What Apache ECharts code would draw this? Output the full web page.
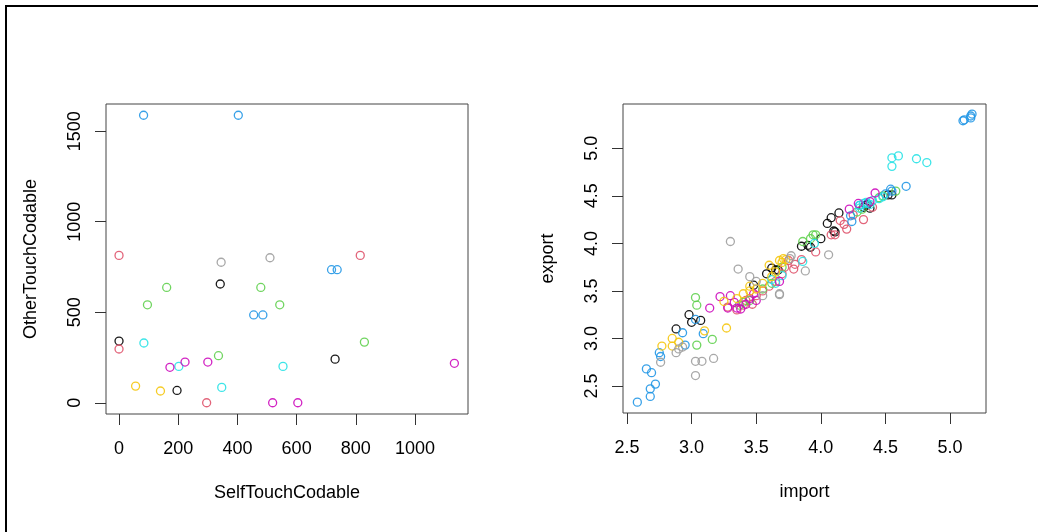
<!DOCTYPE html>
<html>
<head>
<meta charset="utf-8">
<script src="https://cdn.jsdelivr.net/npm/echarts@6.0.0/dist/echarts.min.js"></script>
<style>
  html, body { margin: 0; padding: 0; background: #fff; }
  #main { width: 1038px; height: 532px; }
</style>
</head>
<body>
<div id="main"></div>
<script>
// 分组颜色 (R 默认调色板)
var groupColors = ['#000000', '#DF536B', '#61D04F', '#2297E6', '#28E2E5', '#CD0BBC', '#F5C710', '#9E9E9E']

// 左图: [SelfTouchCodable, OtherTouchCodable, 分组]
var touchPoints = [
  [0, 341, 0], [342, 656, 0], [196, 68, 0], [730, 241, 0],
  [0, 814, 1], [815, 814, 1], [0, 297, 1], [296, 0, 1],
  [161, 637, 2], [479, 637, 2], [96, 541, 2], [543, 541, 2], [336, 260, 2], [829, 335, 2],
  [83, 1588, 3], [403, 1588, 3], [455, 485, 3], [486, 485, 3], [718, 735, 3], [737, 735, 3],
  [84, 330, 4], [202, 201, 4], [554, 201, 4], [347, 85, 4],
  [172, 196, 5], [223, 225, 5], [300, 225, 5], [519, 0, 5], [604, 0, 5], [1133, 218, 5],
  [56, 92, 6], [140, 65, 6],
  [345, 776, 7], [510, 801, 7]
]

// 右图: [import, export, 分组]
var tradePoints = [
  [2.88, 3.10, 0], [2.98, 3.25, 0], [3.00, 3.17, 0], [3.07, 3.19, 0], [3.48, 3.56, 0], [3.62, 3.74, 0],
  [3.58, 3.68, 0], [3.65, 3.72, 0], [3.85, 3.97, 0], [3.92, 3.96, 0], [3.90, 3.98, 0], [4.00, 4.05, 0],
  [4.05, 4.21, 0], [4.08, 4.27, 0], [4.14, 4.32, 0], [4.10, 4.13, 0], [4.11, 4.12, 0], [4.33, 4.38, 0],
  [4.35, 4.40, 0], [4.38, 4.37, 0], [4.52, 4.51, 0], [4.55, 4.51, 0], [4.36, 4.41, 0], [3.67, 3.72, 0],
  [3.28, 3.33, 1], [3.47, 3.36, 1], [3.42, 3.40, 1], [3.50, 3.45, 1], [3.55, 3.50, 1], [3.60, 3.55, 1],
  [3.65, 3.60, 1], [3.70, 3.68, 1], [3.75, 3.82, 1], [3.79, 3.73, 1], [3.85, 3.83, 1], [3.80, 3.78, 1],
  [3.96, 3.91, 1], [4.08, 4.09, 1], [4.11, 4.09, 1], [4.15, 4.24, 1], [4.20, 4.15, 1], [4.33, 4.25, 1],
  [4.25, 4.30, 1], [4.40, 4.38, 1], [3.40, 3.35, 1], [3.72, 3.75, 1], [3.35, 3.30, 1], [4.18, 4.20, 1],
  [3.03, 3.43, 2], [3.04, 3.35, 2], [3.04, 2.93, 2], [3.16, 2.99, 2], [3.37, 3.35, 2], [3.40, 3.38, 2],
  [3.45, 3.40, 2], [3.55, 3.52, 2], [3.86, 4.02, 2], [3.92, 4.05, 2], [3.94, 4.09, 2], [3.96, 4.09, 2],
  [3.70, 3.75, 2], [4.45, 4.48, 2], [4.48, 4.50, 2], [4.58, 4.55, 2], [4.28, 4.33, 2], [4.32, 4.36, 2],
  [3.62, 3.58, 2],
  [2.58, 2.33, 3], [2.68, 2.39, 3], [2.68, 2.47, 3], [2.72, 2.52, 3], [2.65, 2.68, 3], [2.69, 2.64, 3],
  [2.75, 2.85, 3], [2.76, 2.81, 3], [2.95, 2.93, 3], [2.93, 3.06, 3], [3.03, 3.20, 3], [3.09, 3.05, 3],
  [4.24, 4.23, 3], [4.23, 4.29, 3], [4.30, 4.40, 3], [4.36, 4.42, 3], [4.50, 4.52, 3], [4.54, 4.57, 3],
  [4.55, 4.55, 3], [4.66, 4.60, 3], [5.10, 5.29, 3], [5.16, 5.32, 3], [5.17, 5.36, 3], [5.16, 5.34, 3],
  [5.11, 5.30, 3],
  [3.86, 3.81, 4], [3.62, 3.62, 4], [3.65, 3.58, 4], [3.70, 3.66, 4], [4.30, 4.40, 4], [4.33, 4.42, 4],
  [4.35, 4.43, 4], [4.38, 4.41, 4], [4.40, 4.45, 4], [4.45, 4.47, 4], [4.48, 4.49, 4], [4.30, 4.37, 4],
  [4.55, 4.90, 4], [4.60, 4.92, 4], [4.55, 4.81, 4], [4.74, 4.89, 4], [4.82, 4.85, 4], [3.95, 4.00, 4],
  [3.14, 3.32, 5], [3.22, 3.44, 5], [3.28, 3.32, 5], [3.30, 3.45, 5], [3.35, 3.32, 5], [3.38, 3.31, 5],
  [3.45, 3.42, 5], [3.50, 3.40, 5], [3.48, 3.47, 5], [3.68, 3.60, 5], [4.22, 4.36, 5], [4.29, 4.42, 5],
  [4.42, 4.53, 5], [3.33, 3.38, 5], [3.42, 3.36, 5], [4.38, 4.44, 5],
  [2.77, 2.92, 6], [2.85, 3.00, 6], [2.85, 2.92, 6], [2.90, 2.96, 6], [3.10, 3.08, 6], [3.27, 3.11, 6],
  [3.25, 3.39, 6], [3.35, 3.42, 6], [3.40, 3.47, 6], [3.45, 3.50, 6], [3.50, 3.52, 6], [3.55, 3.58, 6],
  [3.62, 3.65, 6], [3.65, 3.70, 6], [3.70, 3.80, 6], [3.73, 3.83, 6], [3.71, 3.84, 6], [3.45, 3.55, 6],
  [3.60, 3.77, 6], [3.68, 3.82, 6],
  [2.76, 2.75, 7], [2.88, 2.85, 7], [2.90, 2.89, 7], [2.93, 2.91, 7], [3.03, 2.76, 7], [3.08, 2.76, 7],
  [3.03, 2.61, 7], [3.17, 2.79, 7], [3.30, 4.02, 7], [3.36, 3.73, 7], [3.45, 3.65, 7], [3.68, 3.47, 7],
  [4.06, 3.88, 7], [3.88, 3.71, 7], [3.76, 3.84, 7], [3.77, 3.87, 7], [3.68, 3.46, 7], [3.50, 3.60, 7],
  [3.55, 3.45, 7]
]

// 刻度
var selfTicks = [0, 200, 400, 600, 800, 1000]
var otherTicks = [0, 500, 1000, 1500]
var importTicks = [2.5, 3.0, 3.5, 4.0, 4.5, 5.0]
var exportTicks = [2.5, 3.0, 3.5, 4.0, 4.5, 5.0]

var myChart = echarts.init(document.getElementById('main'))

var font = 'Liberation Sans, Arial, sans-serif'

function axisX(idx, min, max, ticks, name, fmt) {
  return {
    type: 'value', gridIndex: idx, min: min, max: max, position: 'bottom',
    name: name, nameLocation: 'middle', nameGap: 70,
    nameTextStyle: { fontFamily: font, fontSize: 18, color: '#000' },
    axisLine: { show: false, onZero: false },
    axisTick: { show: true, inside: false, length: 11, customValues: ticks, lineStyle: { color: '#333' } },
    axisLabel: { margin: 26, customValues: ticks, fontFamily: font, fontSize: 18, color: '#000', formatter: fmt },
    splitLine: { show: false }
  }
}

function axisY(idx, min, max, ticks, name, fmt) {
  return {
    type: 'value', gridIndex: idx, min: min, max: max, position: 'left',
    name: name, nameLocation: 'middle', nameGap: 66, nameRotate: 90,
    nameTextStyle: { fontFamily: font, fontSize: 18, color: '#000' },
    axisLine: { show: false, onZero: false },
    axisTick: { show: true, inside: false, length: 11, customValues: ticks, lineStyle: { color: '#333' } },
    axisLabel: { margin: 22, rotate: 90, customValues: ticks, fontFamily: font, fontSize: 18, color: '#000', formatter: fmt },
    splitLine: { show: false }
  }
}

var plain = function (v) { return String(v) }
var oneDec = function (v) { return Number(v).toFixed(1) }

var series = []
for (var g = 0; g < groupColors.length; g++) {
  // 左图每组
  series.push({
    type: 'scatter', xAxisIndex: 0, yAxisIndex: 0,
    symbol: 'circle', symbolSize: 8,
    itemStyle: { color: 'rgba(0,0,0,0)', borderColor: groupColors[g], borderWidth: 1.3, opacity: 0.9 },
    data: touchPoints.filter(function (p) { return p[2] === g }).map(function (p) { return [p[0], p[1]] })
  })
  // 右图每组
  series.push({
    type: 'scatter', xAxisIndex: 1, yAxisIndex: 1,
    symbol: 'circle', symbolSize: 8,
    itemStyle: { color: 'rgba(0,0,0,0)', borderColor: groupColors[g], borderWidth: 1.3, opacity: 0.9 },
    data: tradePoints.filter(function (p) { return p[2] === g }).map(function (p) { return [p[0], p[1]] })
  })
}

var option = {
  animation: false,
  backgroundColor: '#fff',
  grid: [
    { left: 106, top: 104, width: 362, height: 310, show: true, borderColor: '#444', borderWidth: 1, backgroundColor: 'transparent' },
    { left: 623, top: 104, width: 363, height: 309, show: true, borderColor: '#444', borderWidth: 1, backgroundColor: 'transparent' }
  ],
  xAxis: [
    axisX(0, -44, 1179, selfTicks, 'SelfTouchCodable', plain),
    axisX(1, 2.469, 5.278, importTicks, 'import', oneDec)
  ],
  yAxis: [
    axisY(0, -62, 1650, otherTicks, 'OtherTouchCodable', plain),
    axisY(1, 2.216, 5.466, exportTicks, 'export', oneDec)
  ],
  // 外框
  graphic: [{
    type: 'polyline',
    silent: true,
    shape: { points: [[6, 532], [6, 6], [1038, 6]] },
    style: { stroke: '#000', lineWidth: 2, fill: null }
  }],
  series: series
}

myChart.setOption(option)
</script>
</body>
</html>
